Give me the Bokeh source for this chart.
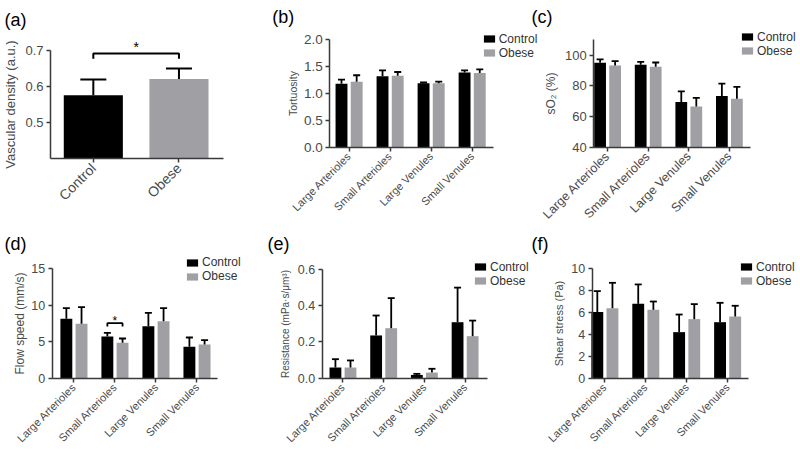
import math
from bokeh.plotting import figure
from bokeh.models import (Range1d, FixedTicker, Label, Legend, LegendItem, LinearAxis,
                          NumeralTickFormatter, ColumnDataSource)
from bokeh.transform import dodge
from bokeh.embed import file_html
from bokeh.resources import INLINE

FONT = "Liberation Sans"
BLACK = "#000000"
GREY = "#a0a0a4"
AXIS = "#3a3a3a"
TXT = "#4a4a4a"
W, H = 800, 456

# ---------------- data ----------------
groups = ["Control", "Obese"]
vessels = ["Large Arterioles", "Small Arterioles", "Large Venules", "Small Venules"]

density_mean = [0.576, 0.621]
density_err = [0.044, 0.029]
density_sig_y = 0.692
density_sig_drop = 0.015

tort_control = [1.18, 1.32, 1.19, 1.39]
tort_control_err = [0.08, 0.11, 0.015, 0.04]
tort_obese = [1.22, 1.33, 1.19, 1.38]
tort_obese_err = [0.12, 0.07, 0.03, 0.07]

so2_control = [95.0, 93.7, 69.5, 73.4]
so2_control_err = [2.2, 1.9, 6.9, 8.1]
so2_obese = [93.2, 92.4, 66.6, 71.6]
so2_obese_err = [2.9, 2.8, 5.5, 7.7]

flow_control = [8.14, 5.72, 7.13, 4.30]
flow_control_err = [1.46, 0.50, 1.83, 1.28]
flow_obese = [7.45, 4.85, 7.82, 4.62]
flow_obese_err = [2.29, 0.59, 1.78, 0.59]
flow_sig_y = 7.54
flow_sig_drop = 0.45

res_control = [0.059, 0.236, 0.018, 0.309]
res_control_err = [0.046, 0.110, 0.006, 0.191]
res_obese = [0.059, 0.276, 0.031, 0.232]
res_obese_err = [0.039, 0.166, 0.021, 0.086]

shear_control = [6.04, 6.80, 4.21, 5.12]
shear_control_err = [1.92, 1.77, 1.61, 1.77]
shear_obese = [6.40, 6.25, 5.40, 5.64]
shear_obese_err = [2.32, 0.76, 1.37, 0.98]

DODGE = 0.185

# one canvas; default ranges are page pixels (y downwards)
fig = figure(width=W, height=H, output_backend="svg", toolbar_location=None,
             title_location=None, x_axis_type=None, y_axis_type=None,
             x_range=Range1d(0, W), y_range=Range1d(H, 0),
             min_border=0, min_border_left=0, min_border_right=0,
             min_border_top=0, min_border_bottom=0)
fig.outline_line_color = None
fig.grid.visible = False
fig.background_fill_color = "white"
fig.border_fill_color = "white"


def style_axis(ax):
    ax.axis_line_color = AXIS
    ax.axis_line_width = 1.5
    ax.major_tick_line_color = AXIS
    ax.major_tick_line_width = 1.5
    ax.major_tick_out = 4
    ax.major_tick_in = 0
    ax.minor_tick_line_color = None
    ax.major_label_text_font = FONT
    ax.major_label_text_color = TXT
    ax.axis_label_text_font = FONT
    ax.axis_label_text_color = TXT
    ax.axis_label_text_font_style = "normal"


class Panel:
    def __init__(self, name, axes_px, xr, yr, cats, yticks, yfmt, ylabel,
                 ylab_size, ytick_size, xtick_size, ylab_standoff=4):
        ax0, ax1, ay_top, ay_bot = axes_px
        x0, x1 = xr
        y0, y1 = yr
        sx = (ax1 - ax0) / (x1 - x0)
        sy = (ay_bot - ay_top) / (y1 - y0)
        fig.extra_x_ranges[name] = Range1d(x0 - ax0 / sx, x1 + (W - ax1) / sx)
        fig.extra_y_ranges[name] = Range1d(y0 - (H - ay_bot) / sy, y1 + ay_top / sy)
        self.name = name
        self.y0 = y0
        self.centers = [i + 0.5 for i in range(len(cats))]
        xa = LinearAxis(x_range_name=name, y_range_name=name, fixed_location=y0,
                        bounds=(x0, x1), ticker=FixedTicker(ticks=self.centers),
                        major_label_overrides={c: n for c, n in zip(self.centers, cats)},
                        major_label_orientation=math.pi / 4)
        style_axis(xa)
        xa.major_label_text_font_size = xtick_size
        xa.major_label_standoff = 3
        ya = LinearAxis(x_range_name=name, y_range_name=name, fixed_location=x0,
                        bounds=(y0, y1), ticker=FixedTicker(ticks=yticks),
                        formatter=NumeralTickFormatter(format=yfmt), axis_label=ylabel)
        style_axis(ya)
        ya.major_label_text_font_size = ytick_size
        ya.major_label_standoff = 3
        ya.axis_label_text_font_size = ylab_size
        ya.axis_label_standoff = ylab_standoff
        fig.add_layout(xa, "below")
        fig.add_layout(ya, "left")

    def kw(self):
        return dict(x_range_name=self.name, y_range_name=self.name)

    def grouped(self, c, ce, o, oe, glyph_left, legend_bottom, cap=7, lw=1.8):
        src = ColumnDataSource(dict(
            x=self.centers, c=c, ct=[a + b for a, b in zip(c, ce)],
            o=o, ot=[a + b for a, b in zip(o, oe)]))
        rc = fig.vbar(x=dodge("x", -DODGE), top="c", bottom=self.y0, width=0.29,
                      source=src, fill_color=BLACK, line_color=None, **self.kw())
        ro = fig.vbar(x=dodge("x", DODGE), top="o", bottom=self.y0, width=0.29,
                      source=src, fill_color=GREY, line_color=None, **self.kw())
        for d, lo, hi in ((-DODGE, "c", "ct"), (DODGE, "o", "ot")):
            fig.segment(x0=dodge("x", d), y0=lo, x1=dodge("x", d), y1=hi, source=src,
                        line_color=BLACK, line_width=lw, **self.kw())
            fig.scatter(x=dodge("x", d), y=hi, source=src, marker="dash", size=cap,
                        line_color=BLACK, line_width=lw, **self.kw())
        leg = Legend(items=[LegendItem(label="Control", renderers=[rc]),
                            LegendItem(label="Obese", renderers=[ro])],
                     location=(glyph_left, H - legend_bottom),
                     glyph_width=14, glyph_height=9,
                     label_height=9, spacing=0, padding=0, margin=0,
                     label_standoff=3, border_line_color=None,
                     background_fill_alpha=0, label_text_font=FONT,
                     label_text_font_size="12px", label_text_color="#333333")
        fig.add_layout(leg)


def letter(txt, page_x, page_top):
    fig.add_layout(Label(x=page_x, y=page_top, text=txt, text_font=FONT,
                         text_font_size="18px", text_color="black",
                         text_baseline="top", text_align="left"))


# ---------------- (a) ----------------
A = Panel("a", (50, 223, 50, 158.3), (0.0, 2.02), (0.4, 0.7), groups,
          [0.5, 0.6, 0.7], "0.0", "Vascular density (a.u.)", "13px", "13px", "14px")
srca = ColumnDataSource(dict(x=A.centers, m=density_mean,
                             t=[a + b for a, b in zip(density_mean, density_err)],
                             col=[BLACK, GREY]))
fig.vbar(x="x", top="m", bottom=A.y0, width=0.69, source=srca, fill_color="col",
         line_color=None, **A.kw())
fig.segment(x0="x", y0="m", x1="x", y1="t", source=srca, line_color=BLACK,
            line_width=2, **A.kw())
fig.scatter(x="x", y="t", source=srca, marker="dash", size=26, line_color=BLACK,
            line_width=2, **A.kw())
ca = A.centers
fig.line(x=[ca[0], ca[0], ca[1], ca[1]],
         y=[density_sig_y - density_sig_drop, density_sig_y, density_sig_y,
            density_sig_y - density_sig_drop], line_color=BLACK, line_width=2, **A.kw())
fig.add_layout(Label(x=(ca[0] + ca[1]) / 2, y=0.711, text="*", text_font=FONT,
                     text_font_size="14px", text_align="center",
                     text_baseline="alphabetic", text_color=BLACK, **A.kw()))
letter("(a)", 4, 9)

# ---------------- (b) ----------------
B = Panel("b", (329.3, 493, 39.3, 146.7), (0.03, 4.02), (0, 2.0), vessels,
          [0, 0.5, 1.0, 1.5, 2.0], "0.0", "Tortuosity", "10.5px", "13.5px", "11px",
          ylab_standoff=2)
B.grouped(tort_control, tort_control_err, tort_obese, tort_obese_err, 481.7, 59.8)
letter("(b)", 271.7, 6.5)

# ---------------- (c) ----------------
C = Panel("c", (593.3, 750, 39.3, 146.7), (0.16, 4.02), (40, 110), vessels,
          [40, 60, 80, 100], "0", "sO\u2082 (%)", "12px", "13px", "12.5px")
C.grouped(so2_control, so2_control_err, so2_obese, so2_obese_err, 740, 57.5)
letter("(c)", 531, 6.5)

# ---------------- (d) ----------------
D = Panel("d", (51.7, 217, 268.3, 377.7), (-0.03, 4.0), (0, 15), vessels,
          [0, 5, 10, 15], "0", "Flow speed (mm/s)", "12px", "12.5px", "11px",
          ylab_standoff=2)
D.grouped(flow_control, flow_control_err, flow_obese, flow_obese_err, 185, 283.1)
cd = D.centers
sx0 = cd[1] - DODGE
sx1 = cd[1] + DODGE
fig.line(x=[sx0, sx0, sx1, sx1],
         y=[flow_sig_y - flow_sig_drop, flow_sig_y, flow_sig_y, flow_sig_y - flow_sig_drop],
         line_color=BLACK, line_width=1.8, **D.kw())
fig.add_layout(Label(x=cd[1], y=7.9, text="*", text_font=FONT, text_font_size="12px",
                     text_align="center", text_baseline="alphabetic", text_color=BLACK,
                     **D.kw()))
letter("(d)", 4, 233)

# ---------------- (e) ----------------
E = Panel("e", (321.7, 487, 269, 377.7), (-0.01, 4.05), (0, 0.6), vessels,
          [0, 0.2, 0.4, 0.6], "0.0", "Resistance (mPa\u00b7s/\u03bcm\u00b3)",
          "10px", "12.5px", "11px")
E.grouped(res_control, res_control_err, res_obese, res_obese_err, 473, 287.8)
letter("(e)", 267, 233)

# ---------------- (f) ----------------
F = Panel("f", (591.7, 748, 268.3, 377.7), (0.19, 4.01), (0, 10), vessels,
          [0, 2, 4, 6, 8, 10], "0", "Shear stress (Pa)", "11px", "12.5px", "11px")
F.grouped(shear_control, shear_control_err, shear_obese, shear_obese_err, 739, 287.8)
letter("(f)", 531, 233)

with open("out.html", "w") as f:
    f.write(file_html(fig, INLINE))
